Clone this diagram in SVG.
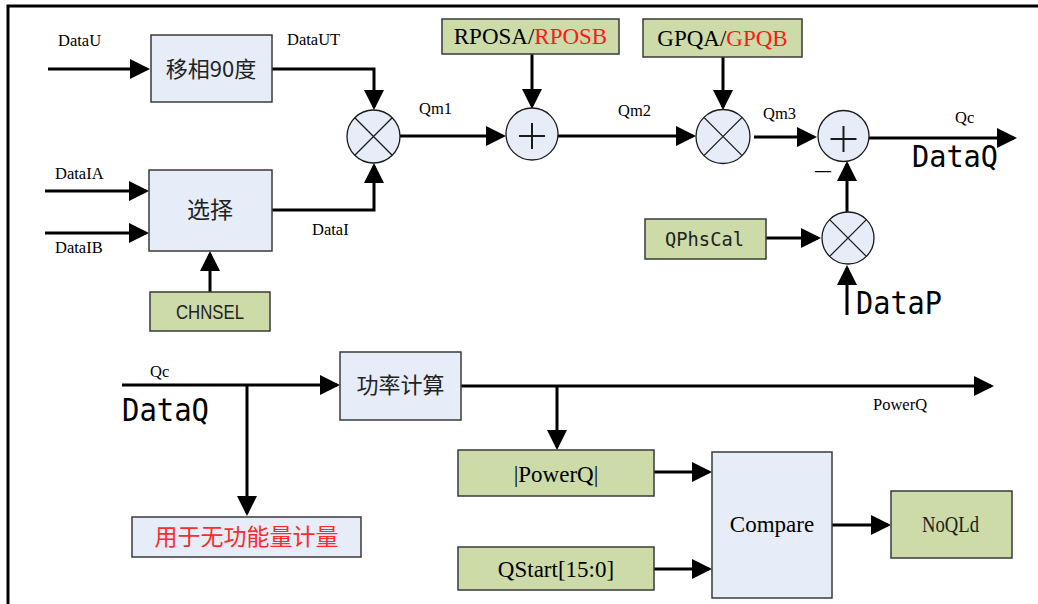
<svg xmlns="http://www.w3.org/2000/svg" width="1038" height="604" viewBox="0 0 1038 604">
<style>
.bb{fill:#E6EDF8;stroke:#3a3a3a;stroke-width:1.5}
.gb{fill:#CCDBA8;stroke:#3a3a3a;stroke-width:1.5}
.op{fill:#E6EDF8;stroke:#1a1a1a;stroke-width:1.3}
.sym{stroke:#1a1a1a;stroke-width:1.3;fill:none}
.sym2{stroke:#1a1a1a;stroke-width:2;fill:none}
.cn{fill:none;stroke:#000;stroke-width:3}
.cn path{marker-end:url(#ah)}
.lb{font-family:"Liberation Serif",serif;font-size:16.5px;fill:#000}
.bt{font-family:"Liberation Serif",serif;font-size:23px;fill:#000;text-anchor:middle}
.cj{font-family:"Noto Sans CJK SC",sans-serif;font-size:23px;fill:#222;text-anchor:middle}
.mn{font-family:"DejaVu Sans Mono",monospace;fill:#000}
.red{fill:#FF1A1A}
</style>
<defs>
<marker id="ah" markerUnits="userSpaceOnUse" markerWidth="20" markerHeight="20" viewBox="0 0 20 20" refX="17" refY="10" orient="auto">
<path d="M0,0 L20,10 L0,20 z" fill="#000"/>
</marker>
</defs>
<rect width="1038" height="604" fill="#fff"/>
<g id="frame" stroke="#000" stroke-width="3" fill="none">
<path d="M8,604 V6 H1038"/>
</g>

<g id="connectors" class="cn">
<path d="M48,69 H147"/>
<path d="M45,191 H146"/>
<path d="M45,233 H146"/>
<path d="M210,292 V254"/>
<path d="M272,69 H374 V107"/>
<path d="M272,210 H374 V166"/>
<path d="M400,136 H503"/>
<path d="M532,54 V106"/>
<path d="M558,136 H693"/>
<path d="M723,57 V107"/>
<path d="M754,137 H814"/>
<path d="M869,138 H1014"/>
<path d="M847,212 V164"/>
<path d="M766,238 H818"/>
<path d="M847,315 V268"/>
<path d="M122,385 H337"/>
<path d="M247,385 V513"/>
<path d="M460,386 H991"/>
<path d="M557,386 V447"/>
<path d="M654,472 H709"/>
<path d="M654,569 H709"/>
<path d="M832,525 H888"/>
</g>

<g id="labels" class="lb">
<text x="58" y="46">DataU</text>
<text x="287" y="45">DataUT</text>
<text x="55" y="179">DataIA</text>
<text x="55" y="253">DataIB</text>
<text x="312" y="235">DataI</text>
<text x="419" y="114">Qm1</text>
<text x="618" y="116">Qm2</text>
<text x="763" y="119">Qm3</text>
<text x="955" y="123">Qc</text>
<text x="150" y="377">Qc</text>
<text x="873" y="410">PowerQ</text>
<text x="815" y="176" style="font-size:16px;font-weight:bold">—</text>
<text class="mn" x="912" y="167" style="font-size:31px" textLength="86" lengthAdjust="spacingAndGlyphs">DataQ</text>
<text class="mn" x="856" y="314" style="font-size:32px" textLength="86" lengthAdjust="spacingAndGlyphs">DataP</text>
<text class="mn" x="122" y="421" style="font-size:32px" textLength="87" lengthAdjust="spacingAndGlyphs">DataQ</text>
</g>

<g id="n_shift">
<rect class="bb" x="151" y="35" width="121" height="67"/>
<text class="cj" x="211" y="77" style="font-size:22px">移相90度</text>
</g>
<g id="n_select">
<rect class="bb" x="149" y="170" width="123" height="81"/>
<text class="cj" x="210" y="218">选择</text>
</g>
<g id="n_chnsel">
<rect class="gb" x="150" y="292" width="120" height="39"/>
<text x="176" y="319" style="font-family:'Liberation Sans',sans-serif;font-size:21px;fill:#222" textLength="68" lengthAdjust="spacingAndGlyphs">CHNSEL</text>
</g>
<g id="n_mul1">
<circle class="op" cx="373.5" cy="136.5" r="26.5"/>
<path class="sym" d="M354.8,117.8 L392.2,155.2 M392.2,117.8 L354.8,155.2"/>
</g>
<g id="n_rposa">
<rect class="gb" x="442" y="19" width="177" height="35"/>
<text class="bt" x="530.5" y="44">RPOSA/<tspan class="red">RPOSB</tspan></text>
</g>
<g id="n_add1">
<circle class="op" cx="532" cy="134" r="26"/>
<path class="sym2" d="M519,136 H545 M532,123 V149"/>
</g>
<g id="n_gpqa">
<rect class="gb" x="643" y="19" width="159" height="38"/>
<text class="bt" x="722.5" y="46">GPQA/<tspan class="red">GPQB</tspan></text>
</g>
<g id="n_mul2">
<circle class="op" cx="723" cy="136.5" r="27"/>
<path class="sym" d="M703.9,117.4 L742.1,155.6 M742.1,117.4 L703.9,155.6"/>
</g>
<g id="n_add2">
<circle class="op" cx="843.5" cy="136" r="25.5"/>
<path class="sym2" d="M830.5,139 H856.5 M843.5,126 V152"/>
</g>
<g id="n_qphscal">
<rect class="gb" x="645" y="219" width="121" height="40"/>
<text class="mn" x="665" y="246" style="font-size:20px;fill:#222" textLength="79" lengthAdjust="spacingAndGlyphs">QPhsCal</text>
</g>
<g id="n_mul3">
<circle class="op" cx="848" cy="238" r="26"/>
<path class="sym" d="M829.6,219.6 L866.4,256.4 M866.4,219.6 L829.6,256.4"/>
</g>
<g id="n_power">
<rect class="bb" x="340" y="352" width="121" height="68"/>
<text class="cj" x="400.5" y="393" style="font-size:22px">功率计算</text>
</g>
<g id="n_reactive">
<rect class="bb" x="132" y="517" width="229" height="40"/>
<text class="cj" x="246.5" y="545" style="fill:#FF2A2A">用于无功能量计量</text>
</g>
<g id="n_abs">
<rect class="gb" x="458" y="450" width="196" height="46"/>
<text class="bt" x="556" y="482">|PowerQ|</text>
</g>
<g id="n_qstart">
<rect class="gb" x="458" y="547" width="196" height="43"/>
<text class="bt" x="556" y="577">QStart[15:0]</text>
</g>
<g id="n_compare">
<rect class="bb" x="712" y="452" width="120" height="146"/>
<text class="bt" x="772" y="532">Compare</text>
</g>
<g id="n_noqld">
<rect class="gb" x="891" y="491" width="121" height="67"/>
<text x="922" y="532" style="font-family:'Liberation Serif',serif;font-size:23px;fill:#222" textLength="57" lengthAdjust="spacingAndGlyphs">NoQLd</text>
</g>
</svg>
